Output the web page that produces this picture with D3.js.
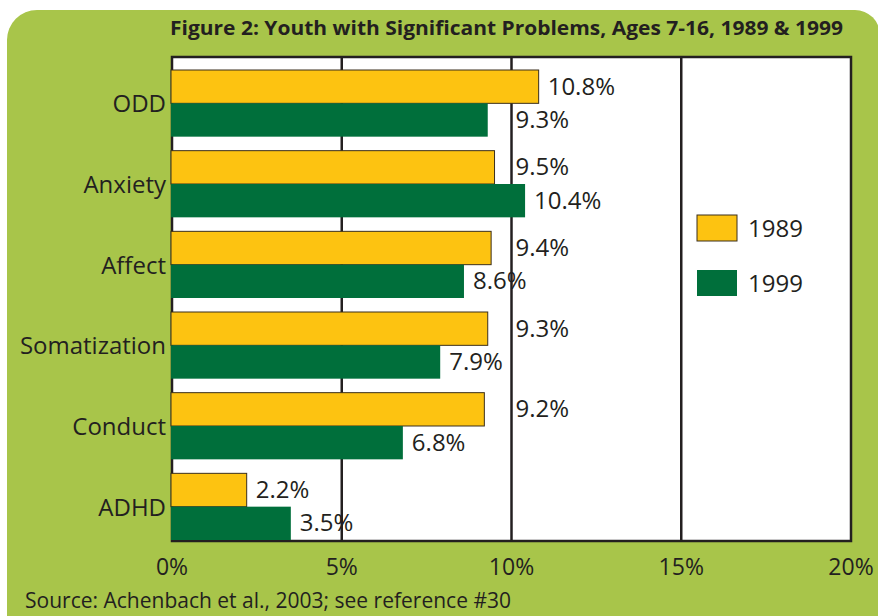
<!DOCTYPE html>
<html>
<head>
<meta charset="utf-8">
<script src="https://cdn.jsdelivr.net/npm/d3@7"></script>
<style>
  html, body { margin: 0; padding: 0; background: #fff; }
  svg { display: block; font-family: "Open Sans", sans-serif; }
</style>
</head>
<body>
<svg width="878" height="616"></svg>
<script>
var categories = ["ODD", "Anxiety", "Affect", "Somatization", "Conduct", "ADHD"];
var years = ["1989", "1999"];
var values1989 = [10.8, 9.5, 9.4, 9.3, 9.2, 2.2];
var values1999 = [9.3, 10.4, 8.6, 7.9, 6.8, 3.5];
var xTicks = [0, 5, 10, 15, 20];
var tickLabels = ["0%", "5%", "10%", "15%", "20%"];

var yellow = "#fdc311", green = "#006f3b", bg = "#a8c54a", ink = "#231f20";

var svg = d3.select("svg");

// rounded green panel
var p = d3.path();
p.moveTo(7, 40);
p.arcTo(7, 10, 37, 10, 30);
p.lineTo(855, 10);
p.arcTo(880, 10, 880, 35, 25);
p.lineTo(880, 640);
p.lineTo(7, 640);
p.closePath();
svg.append("path").attr("d", p.toString()).attr("fill", bg);

var x = d3.scaleLinear().domain([0, 20]).range([172, 851]);
var y = d3.scaleBand().domain(categories).range([57, 541]);
var yi = d3.scaleBand().domain(years).range([13, y.bandwidth() - 1]);

// plot area
svg.append("rect")
    .attr("x", x(0)).attr("y", 57)
    .attr("width", x(20) - x(0)).attr("height", 541 - 57)
    .attr("fill", "#fff").attr("stroke", ink).attr("stroke-width", 2.5);

svg.append("g").selectAll("line")
    .data(xTicks.slice(1, -1))
  .enter().append("line")
    .attr("x1", d => x(d)).attr("x2", d => x(d))
    .attr("y1", 57).attr("y2", 541)
    .attr("stroke", ink).attr("stroke-width", 2.5);

var rows = categories.map((c, i) => ({cat: c, vals: [values1989[i], values1999[i]]}));

var g = svg.append("g").selectAll("g")
    .data(rows)
  .enter().append("g")
    .attr("transform", d => "translate(0," + y(d.cat) + ")");

g.selectAll("rect")
    .data(d => d.vals.map((v, j) => ({year: years[j], v: v})))
  .enter().append("rect")
    .attr("x", x(0) - 1)
    .attr("y", d => yi(d.year))
    .attr("width", d => x(d.v) - x(0) + 1)
    .attr("height", yi.bandwidth())
    .attr("fill", d => d.year === "1989" ? yellow : green)
    .attr("stroke", d => d.year === "1989" ? "#3b2f1c" : "none")
    .attr("stroke-width", 1);

g.selectAll("text.val")
    .data(d => d.vals.map((v, j) => ({year: years[j], v: v})))
  .enter().append("text")
    .attr("class", "val")
    .attr("x", d => (d.v >= 9 && d.v < 10) ? x(10) + 4 : x(d.v) + 9)
    .attr("y", d => yi(d.year) + yi.bandwidth() / 2 + 8)
    .attr("font-size", 24)
    .attr("fill", ink)
    .text(d => d.v.toFixed(1) + "%");

// category labels
svg.append("g").selectAll("text")
    .data(categories)
  .enter().append("text")
    .attr("x", 166)
    .attr("y", d => y(d) + yi("1999") + 9)
    .attr("text-anchor", "end")
    .attr("font-size", 24)
    .attr("fill", ink)
    .text(d => d);

// x tick labels
svg.append("g").selectAll("text")
    .data(xTicks)
  .enter().append("text")
    .attr("x", d => x(d))
    .attr("y", 575)
    .attr("text-anchor", "middle")
    .attr("font-size", 23)
    .attr("fill", ink)
    .text((d, i) => tickLabels[i]);

// legend
var leg = svg.append("g").selectAll("g")
    .data(years)
  .enter().append("g")
    .attr("transform", (d, i) => "translate(697," + (215 + i * 55) + ")");
leg.append("rect")
    .attr("width", 40).attr("height", 26)
    .attr("fill", d => d === "1989" ? yellow : green)
    .attr("stroke", d => d === "1989" ? "#3b2f1c" : "none");
leg.append("text")
    .attr("x", 51).attr("y", 22)
    .attr("font-size", 24)
    .attr("fill", ink)
    .text(d => d);

svg.append("text")
    .attr("x", 170).attr("y", 35)
    .attr("font-size", 19).attr("font-weight", 700)
    .attr("textLength", 673).attr("lengthAdjust", "spacingAndGlyphs")
    .attr("fill", ink)
    .text("Figure 2: Youth with Significant Problems, Ages 7-16, 1989 & 1999");

svg.append("text")
    .attr("x", 25).attr("y", 608)
    .attr("font-size", 21)
    .attr("textLength", 486).attr("lengthAdjust", "spacingAndGlyphs")
    .attr("fill", ink)
    .text("Source: Achenbach et al., 2003; see reference #30");
</script>
</body>
</html>
